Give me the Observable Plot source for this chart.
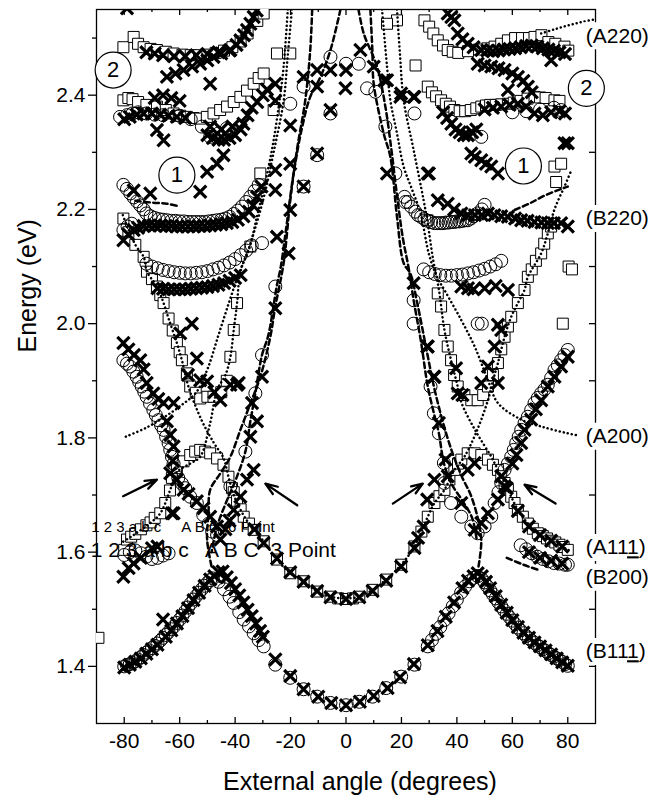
<!DOCTYPE html>
<html><head><meta charset="utf-8">
<script src="https://cdn.jsdelivr.net/npm/d3@7"></script>
<script src="https://cdn.jsdelivr.net/npm/@observablehq/plot@0.6"></script>
<style>body{margin:0;background:#fff} svg text{white-space:pre}</style>
</head><body><div id="chart"></div>
<script>
// ---------- axis ticks ----------
const xTicks = [-80,-60,-40,-20,0,20,40,60,80];
const xMinor = [-70,-50,-30,-10,10,30,50,70];
const yTicks = [1.4,1.6,1.8,2.0,2.2,2.4];
const yMinor = [1.5,1.7,1.9,2.1,2.3,2.5];

// ---------- B111 branch ----------
const circlesB111 = [[-80,1.400],[-79,1.402],[-78,1.404],[-77,1.406],[-76,1.409],[-75,1.412],[-74,1.416],[-73,1.420],[-72,1.424],[-71,1.428],[-70,1.432],[-69,1.436],[-68,1.440],[-67,1.445],[-66,1.450],[-65,1.455],[-64,1.460],[-63,1.465],[-62,1.470],[-61,1.476],[-60,1.482],[-59,1.489],[-58,1.496],[-57,1.503],[-56,1.510],[-55,1.517],[-54,1.523],[-53,1.529],[-52,1.535],[-51,1.541],[-50,1.546],[-49,1.551],[-48,1.554],
[-46,1.548],[-44,1.535],[-42,1.522],[-40.5,1.511],[-38.5,1.495],[-36.9,1.482],[-35,1.470],[-33.3,1.458],[-31.5,1.446],[-29.7,1.435],[-25.5,1.403],[-20.1,1.380],[-15.3,1.360],[-10.4,1.347],[-5.6,1.336],[0,1.332],
[4.8,1.338],[9.6,1.347],[14.5,1.362],[19.9,1.382],[24.7,1.403],[29.5,1.435],[31,1.446],[32.5,1.457],[34,1.469],[35.5,1.481],[37,1.493],[38.5,1.505],[40,1.517],[41.5,1.529],[43,1.540],[44.5,1.549],[46,1.555],[47.5,1.558],[49,1.553],[50,1.547],[51,1.540],[52,1.533],[53,1.526],[54,1.519],[55,1.512],[56,1.505],[57,1.498],[58,1.492],[59,1.486],[60,1.480],[61,1.474],[62,1.468],[63,1.463],[64,1.458],[65,1.453],[66,1.449],[67,1.445],[68,1.441],[69,1.437],[70,1.434],[71,1.430],[72,1.427],[73,1.423],[74,1.420],[75,1.417],[76,1.414],[77,1.411],[78,1.408],[79,1.404],[80,1.401]];
const crossesB111 = [[-80,1.398],[-78,1.403],[-76,1.408],[-74,1.414],[-72,1.422],[-70,1.430],[-68,1.438],[-66,1.482],[-65,1.452],[-63,1.463],[-61,1.475],[-59,1.488],[-57,1.502],[-55,1.516],[-53,1.529],[-51,1.541],[-49,1.552],[-47.5,1.558],[-46,1.565],[-44.5,1.566],[-43,1.556],[-41.5,1.546],[-40,1.535],[-38.5,1.524],[-37,1.512],[-35.5,1.499],[-34,1.488],[-32.5,1.475],[-31,1.462],[-30,1.452],[-25.5,1.412],[-20.1,1.383],[-15.3,1.360],[-10,1.347],[-5.3,1.336],[0,1.332],
[5,1.338],[10,1.348],[15,1.362],[19.5,1.381],[24.5,1.404],[29.5,1.437],[33,1.462],[36,1.487],[39,1.512],[42,1.537],[44,1.550],[46,1.558],[47.5,1.563],[49,1.558],[50.5,1.548],[52,1.537],[54,1.523],[56,1.508],[58,1.494],[60,1.481],[62,1.469],[64,1.459],[66,1.450],[68,1.442],[70,1.435],[72,1.428],[74,1.421],[76,1.414],[78,1.407],[80,1.401]];

// ---------- B200 / A111 square branch ----------
const squaresU = [[-89.3,1.45],
[-80,1.604],[-79,1.622],[-77.5,1.627],[-76,1.632],[-74,1.640],[-72,1.647],[-70.5,1.652],[-69,1.660],[-67,1.668],[-65.2,1.686],[-63.5,1.708],[-62.8,1.730],[-61,1.747],[-58.6,1.759],[-56.2,1.770],[-54.4,1.776],[-52.6,1.779],[-50.8,1.776],[-49,1.773],[-46.5,1.764],[-44.2,1.753],[-42.4,1.732],[-41.1,1.712],
[-40.5,1.705],[-39.3,1.690],[-38,1.675],[-36.9,1.662],[-35,1.650],[-33.3,1.639],[-29.7,1.619],[-24.9,1.587],[-20.1,1.563],[-15.3,1.549],[-10.4,1.531],[-5.6,1.522],[-2.8,1.519],[0,1.518],[2.5,1.519],[4.8,1.522],[9.6,1.534],[14.5,1.552],[19.9,1.578],[24.7,1.610],[27.2,1.636],[29.5,1.662],[31.9,1.686],[33.7,1.698],[35.5,1.709],[37.3,1.727],[39.1,1.744],[40.4,1.755],[41.6,1.762],[43.9,1.773],[46.4,1.773],[48.8,1.770],[51.2,1.762],[53,1.753],[54.8,1.744],[56,1.733],[57.2,1.721],[58.4,1.709],[59.6,1.697],[60.8,1.686],[62,1.674],[63.8,1.662],[65.6,1.650],[67.4,1.641],[69.2,1.633],[71,1.628],[72.5,1.624],[74,1.620],[75.5,1.617],[77,1.613],[78.5,1.609],[80,1.604]];
const crossesU = [[-33,1.640],[-29.7,1.616],[-24.9,1.589],[-20.1,1.565],[-15.3,1.548],[-10.4,1.532],[-5.6,1.521],[0,1.518],[4.8,1.521],[9.6,1.532],[14.5,1.550],[19.9,1.575],[24.7,1.607],[26,1.625],[28,1.645],[58,1.712],[62,1.672],[66,1.645],[70,1.630],[74,1.620],[78,1.610]];

// ---------- A111 crossing branch ----------
const circlesA111 = [[-80.3,1.936],[-79,1.930],[-77.9,1.925],[-76.7,1.916],[-75.5,1.907],[-74.6,1.898],[-73.7,1.890],[-72.8,1.881],[-71.9,1.872],[-70.7,1.860],[-69.5,1.849],[-68.6,1.840],[-67.7,1.831],[-66.7,1.822],[-65.8,1.814],[-64.9,1.802],[-64,1.791],[-63.4,1.779],[-62.8,1.767],[-62.2,1.755],[-61.6,1.744],[-60.5,1.730],[-59.2,1.720],[-58,1.712],[-56.2,1.697],[-53.8,1.686],[-51.5,1.665],[-49.5,1.650],[-48.3,1.636],[-46.5,1.630],[-43.5,1.654],[-41.7,1.715],
[80,1.954],[78.8,1.945],[77.6,1.936],[76.4,1.927],[75.2,1.919],[74,1.905],[72.8,1.893],[71.6,1.885],[70.4,1.878],[69.2,1.870],[68,1.861],[66.8,1.849],[65.6,1.837],[64.4,1.826],[63.2,1.814],[62.3,1.802],[61.4,1.791],[60.5,1.779],[59.6,1.767],[58.4,1.755],[57.2,1.744],[56,1.721],[55,1.705],[53.6,1.686],[52.4,1.662],[50,1.645],[47.5,1.633],[45.2,1.645],[41.6,1.662],[37.9,1.686],[35.5,1.721],
[63,1.612],[65,1.605],[67,1.598],[69,1.592],[71,1.588],[73,1.584],[75,1.581],[77,1.580],[79,1.578],[80,1.578],
[-80,1.595],[-78,1.600],[-76,1.603],[-74,1.598],[-72,1.592],[-70,1.588],[-68,1.590],[-66,1.594],[-64,1.598]];
const crossesA111 = [[-80.3,1.966],[-78.5,1.955],[-76.5,1.945],[-74.2,1.936],[-73,1.920],[-71.9,1.896],[-69.5,1.878],[-67.7,1.868],[-65.8,1.861],[-62.2,1.861],[-64.6,1.829],[-63.4,1.805],[-62.2,1.785],[-62.5,1.760],[-63.4,1.738],[-61,1.727],[-58.6,1.709],[-56.8,1.702],[-53.8,1.689],[-51.4,1.677],[-49,1.662],[-46.5,1.645],[-45.3,1.622],[-43.5,1.640],[-42,1.655],[-40.5,1.674],[-38.1,1.697],[-35.7,1.727],[-33.3,1.744],[-62.2,1.668],
[80,1.942],[77.6,1.925],[75.2,1.907],[72.8,1.890],[70.4,1.866],[68.5,1.850],[66.8,1.832],[64.4,1.814],[63.2,1.791],[61.5,1.770],[60,1.755],[57.2,1.715],[56,1.733],[54.8,1.692],[51.2,1.668],[48.8,1.651],[46.4,1.639],[43.9,1.744],[46.4,1.756],[41.6,1.686],[36.7,1.733],[31.9,1.727],[29.3,1.692],
[-80.3,1.557],[-78.4,1.572],[-76.6,1.580],[-74,1.590],[-70,1.607],[-68,1.610],[-62.8,1.668],[66,1.600],[70,1.590],[74,1.585],[78,1.580]];

// ---------- V shaped square branches ----------
const squaresV = [[-80.3,2.184],[-78.5,2.160],[-76,2.138],[-73,2.117],[-71.8,2.091],[-70,2.078],[-68.2,2.065],[-67,2.050],[-65.8,2.036],[-64,2.009],[-62.5,1.988],[-61,1.966],[-60,1.950],[-59.2,1.936],[-57.4,1.913],[-56.2,1.890],[-54.2,1.879],[-52.6,1.869],[-50,1.872],[-47.8,1.872],[-45,1.880],[-43,1.900],[-41.7,1.942],[-40.5,1.989],[-39.3,2.036],[-34.5,2.135],[-30.9,2.263],[-24.9,2.473],[-20.1,2.473],[-26.1,2.374],
[33.1,2.053],[34.3,2.030],[35.5,1.989],[36.7,1.960],[37.9,1.936],[39,1.910],[40.3,1.890],[42.7,1.875],[45.2,1.866],[47.5,1.866],[49.5,1.875],[51.2,1.890],[53,1.910],[54.8,1.931],[56,1.955],[57.2,1.977],[58.4,1.995],[59.6,2.012],[62,2.036],[64.4,2.059],[65.6,2.082],[67,2.095],[68.5,2.110],[70.4,2.123],[71.5,2.140],[72.8,2.158],[74,2.170],[29.3,2.181],[25.1,2.452],[18.4,2.531],[14.8,2.525],[75.2,2.275],[77.6,2.280],[75.8,2.248],[78.2,2.000],[80.3,2.100],[81.5,2.095]];
const crossesV = [[-59.8,1.983],[-55.6,2.000],[-53.8,1.939],[-52.6,1.901],[-50.1,1.899],[-47.5,1.880],[-45.3,1.866],[-41.7,1.893],[-39.3,1.893],[-38.7,1.896],[-57,1.910],
[29.5,1.960],[31.9,1.907],[39.7,1.922],[40.3,1.878],[42,1.875],[48.8,1.896],[51.2,1.925],[54.8,1.896],[53.6,1.960],[56,1.989],[54.8,1.998]];

// ---------- upper branches (B220, A220 region) ----------
const circlesUpper = [[-80.3,2.243],[-79,2.236],[-77.8,2.228],[-76.6,2.221],[-75.4,2.214],[-74.2,2.207],[-73,2.200],[-72,2.193],[-70.5,2.188],[-69,2.185],[-67.5,2.183],[-66,2.182],[-64.5,2.181],[-63,2.180],[-61.5,2.180],[-60,2.179],[-58.5,2.179],[-57,2.178],[-55.5,2.178],[-54,2.178],[-52.5,2.178],[-51,2.178],[-49.5,2.179],[-48,2.180],[-46.5,2.181],[-45,2.182],[-43.5,2.184],[-42,2.187],[-40.5,2.192],[-39,2.198],[-37.5,2.205],[-36,2.213],[-34.5,2.222],[-33,2.232],[-31.5,2.243],[-80.3,2.164],[-78.8,2.170],[-77.3,2.175],
[-72,2.105],[-70,2.100],[-68,2.097],[-66,2.094],[-64,2.092],[-62,2.090],[-60,2.089],[-58,2.088],[-56,2.088],[-54,2.089],[-52,2.090],[-50,2.092],[-48,2.095],[-46,2.098],[-44,2.102],[-42,2.107],[-40,2.113],[-38,2.120],[-36,2.128],[-34,2.137],
[-81.5,2.362],[-79,2.365],[-77,2.368],[-75,2.370],[-72,2.368],[-69,2.366],[-66,2.365],[-60,2.364],[-56,2.358],[-52,2.345],[-49,2.327],[-46,2.333],[-43,2.342],
[21.1,2.222],[22.3,2.213],[23.5,2.205],[25,2.196],[26,2.190],[27.1,2.187],[28.3,2.183],[29.5,2.180],[30.7,2.178],[31.9,2.176],[33,2.176],[34,2.176],[35,2.176],[36,2.177],[37,2.177],[37.9,2.178],[39,2.178],[40,2.179],[41,2.179],[42,2.180],[43,2.181],[43.9,2.181],[45,2.184],[46,2.188],[47.5,2.193],[49,2.200],[50,2.208],
[28,2.095],[30,2.090],[32,2.087],[34,2.085],[36,2.084],[38,2.084],[40,2.085],[42,2.086],[44,2.088],[46,2.090],[48,2.093],[50,2.096],[52,2.100],[54,2.104],[56,2.110],[47.5,2.000],[49,2.000],
[24.7,2.368],[48.8,2.327],[60,2.370],[65,2.372],[70,2.375],[75,2.378],[77.6,2.374]];
const crossesUpper = [[-80.3,2.146],[-78.5,2.156],[-76.6,2.164],[-75,2.168],[-73,2.171],[-71,2.172],[-69,2.172],[-67,2.172],[-65,2.171],[-63,2.171],[-61,2.170],[-59,2.170],[-57,2.170],[-55,2.170],[-53,2.171],[-51,2.171],[-49,2.172],[-47,2.173],[-45,2.174],[-43,2.176],[-41,2.178],[-39,2.182],[-37,2.188],[-35,2.196],[-33.5,2.207],[-32.1,2.222],[-30.5,2.240],[-76.6,2.233],[-70.6,2.228],[-52.6,2.231],[-50.1,2.266],[-46.5,2.280],[-44.2,2.295],
[-68,2.062],[-66,2.061],[-64,2.060],[-62,2.060],[-60,2.060],[-58,2.060],[-56,2.061],[-54,2.062],[-52,2.063],[-50,2.064],[-48,2.066],[-46,2.068],[-44,2.071],[-42,2.075],[-40,2.080],[-38,2.085],
[-80,2.358],[-78,2.362],[-75.5,2.366],[-73,2.368],[-70,2.368],[-67,2.366],[-64,2.364],[-61,2.362],[-58,2.360],[-69,2.395],[-66,2.400],[-63,2.395],[-60,2.390],[-68.2,2.339],[-65.8,2.321],[-50,2.330],[-48,2.325],[-46,2.322],[-44,2.322],[-42,2.325],[-40,2.330],[-38,2.340],[-37,2.350],[-35.5,2.365],[-34,2.378],[-32,2.388],[-30,2.400],[-28.5,2.410],[-49,2.345],[-45,2.340],[-41,2.345],
[-72,2.475],[-69,2.473],[-66,2.470],[-62,2.468],[-58,2.468],[-54,2.470],[-50,2.472],[-46,2.475],[-42,2.478],[-64.6,2.432],[-61.5,2.438],[-58.6,2.444],[-55.5,2.450],[-52.6,2.455],[-50,2.461],[-47.8,2.467],[-45,2.473],[-41.7,2.479],[-39.5,2.488],[-38.1,2.496],[-36.8,2.505],[-35.7,2.514],[-34.5,2.525],[-33.3,2.537],[-32.2,2.548],[-49,2.420],[-79,2.552],
[36.7,2.543],[38,2.537],[39.1,2.531],[40.3,2.508],[42,2.498],[43.9,2.490],[46,2.484],[48.8,2.479],[51,2.478],[53,2.477],[55,2.478],[57,2.480],[59,2.481],[61,2.482],[63,2.484],[65,2.486],[67,2.487],[69,2.485],[71,2.482],[73,2.480],[75,2.478],[77,2.475],[79,2.472],[47.5,2.455],[50,2.452],[52.4,2.450],[55,2.447],[57.2,2.444],[60,2.438],[62,2.432],[64,2.425],[65.6,2.415],[67,2.405],[74,2.461],[78.8,2.316],
[35,2.370],[36.5,2.360],[38,2.350],[39.5,2.340],[41,2.335],[42.5,2.330],[44,2.330],[45.5,2.335],[47,2.340],[50,2.375],[53,2.378],[56,2.380],[59,2.383],[58.4,2.409],[62,2.385],[65,2.380],[68,2.368],[71,2.365],[74,2.370],[77,2.372],[79,2.368],[13.9,2.426],[19.9,2.403],[24.7,2.397],
[29.5,2.263],[33.1,2.216],[36.7,2.210],[39,2.200],[41.6,2.193],[44,2.190],[46.5,2.190],[49,2.190],[51.2,2.193],[53.5,2.190],[56,2.188],[58.4,2.187],[61,2.184],[63.2,2.181],[65.5,2.180],[68,2.178],[70.5,2.177],[72.8,2.176],[75,2.176],[77.6,2.176],[80,2.170],[45.2,2.298],[46.5,2.292],[48.8,2.286],[50.5,2.280],[52.4,2.275],[54.8,2.263],[80,2.316],
[41.6,2.065],[44,2.062],[46,2.060],[50,2.062],[54,2.066],[58.4,2.059]];
const squaresUpper = [[-80.3,2.391],[-78.5,2.395],[-77,2.393],[-75,2.388],[-72,2.383],[-68.2,2.380],[-65,2.374],[-62.2,2.368],[-59.8,2.364],[-57.4,2.362],[-55,2.360],[-52.6,2.359],[-50.2,2.362],[-47.8,2.368],[-45.4,2.374],[-42.9,2.380],[-40.5,2.388],[-38.1,2.397],[-35.7,2.408],[-33.3,2.420],[-31.5,2.430],[-29.7,2.438],
[-80.3,2.484],[-76.6,2.502],[-75,2.490],[-73,2.484],[-70.5,2.481],[-68.2,2.479],[-65,2.476],[-62.2,2.473],[-59,2.471],[-56,2.470],[-53,2.470],[-50,2.471],[-47,2.474],[-44,2.478],[-41,2.484],[-38,2.494],[-35.5,2.508],[-32,2.530],[-29.7,2.543],
[28.3,2.531],[30,2.520],[31.5,2.508],[33.1,2.496],[35,2.487],[36.7,2.479],[38.5,2.476],[40.5,2.474],[44,2.477],[48,2.480],[51,2.482],[53.6,2.485],[56,2.490],[58.4,2.496],[61,2.500],[63.5,2.500],[66,2.500],[68,2.502],[70.5,2.505],[73,2.493],[75.5,2.490],[78.8,2.485],[80.2,2.478],
[29.5,2.415],[31,2.405],[32.5,2.398],[34.3,2.391],[36,2.385],[37.5,2.380],[39.1,2.374],[41,2.372],[43,2.372],[45,2.374],[47,2.377],[48.8,2.380],[50.5,2.382],[52,2.383],[54,2.383],[56,2.384],[58.4,2.385],[60.5,2.387],[63,2.390],[65.5,2.394],[68,2.397],[70,2.396],[72,2.395],[75.2,2.391],[77,2.390]];

// ---------- central arch points ----------
const circlesCenter = [[-5.6,2.467],[0,2.455],[4.6,2.455],[-15.3,2.415],[-20.1,2.385],[-5.6,2.368],[-10.4,2.295],[-15.3,2.240],[-30.3,2.141],[7.6,2.412],[10.6,2.406],[14.2,2.345],[17.8,2.263],[21.4,2.213],[-25.5,2.065],[-30.3,1.945],[-32.7,1.878],[-34.5,1.829],[-36.3,1.776],[24.4,2.041],[24.4,2.000],[30.5,1.890],[31.7,1.843],[33.5,1.808],[35.3,1.756]];
const crossesCenter = [[-10.4,2.444],[-15.3,2.432],[-5.6,2.444],[0,2.444],[-0.2,2.412],[-5.6,2.374],[-10.4,2.298],[-15.3,2.240],[-20.1,2.280],[-20.1,2.199],[-20.7,2.123],[-25.5,2.420],[-25.5,2.390],[-20.1,2.347],[-25.5,2.269],[-25.5,2.234],[-24.9,2.152],[-10.4,2.415],[14.8,2.426],[14.8,2.263],[19.6,2.397],[24.4,2.397],[29.9,2.263],[10,2.450],[5.2,2.479],[-25.5,2.027],[-30.3,1.907],[-33.9,1.861],[-32.1,1.829],[-34.5,1.802],[24.4,2.071],[29.3,1.960],[31.7,1.907],[33.5,1.826],[35.9,1.762]];

// ---------- model curves ----------
const dottedCurves = [
 [[-19.5,2.55],[-21,2.47],[-22.5,2.39],[-26.1,2.30],[-29.7,2.22],[-34.5,2.14],[-38.1,2.09],[-39.3,2.036],[-40.5,1.989],[-41.7,1.942],[-43.5,1.91],[-46.5,1.884],[-49,1.826],[-52.6,1.767],[-56.2,1.755],[-61,1.740],[-63.4,1.709],[-67,1.668],[-70.6,1.651],[-76.6,1.630],[-80.5,1.618]],
 [[-21,2.55],[-22.5,2.45],[-24,2.39],[-26.5,2.31],[-29.5,2.24],[-32,2.19],[-35,2.13],[-38.5,2.09],[-42,2.04],[-46,1.98],[-50,1.92],[-54,1.88],[-60,1.855],[-66,1.835],[-72,1.818],[-80.5,1.80]],
 [[-80.5,2.19],[-76,2.138],[-73,2.117],[-71.8,2.091],[-68.2,2.065],[-65.8,2.036],[-64,2.009],[-61,1.966],[-59.2,1.936],[-56.8,1.889],[-52,1.83],[-47.5,1.79],[-44.2,1.765],[-42.4,1.732],[-40.5,1.70],[-37,1.665],[-33.3,1.639],[-29.7,1.619],[-24.9,1.587],[-20.1,1.563],[-15.3,1.549],[-10.4,1.531],[-5.6,1.522],[0,1.519],[4.8,1.522],[9.6,1.534],[14.5,1.552],[19.9,1.578],[24.7,1.61],[29.5,1.662],[31.9,1.686],[35.5,1.709],[39.1,1.744],[42.7,1.767],[47,1.81],[51.2,1.866],[53,1.9],[54.8,1.931],[57.2,1.977],[59.6,2.012],[62,2.036],[64.4,2.059],[65.6,2.082],[70.4,2.123],[72.8,2.158],[75.2,2.2],[78.8,2.24],[81,2.265]],
 [[18.4,2.55],[19.5,2.47],[20.8,2.391],[24.4,2.304],[28,2.216],[29.3,2.181],[31.5,2.11],[33.5,2.06],[35.5,1.989],[37.9,1.936],[40.3,1.89],[41.7,1.861],[47,1.81],[52.4,1.767],[54.8,1.744],[57.2,1.721],[59.6,1.697],[62,1.674],[65.6,1.65],[69.2,1.633],[75,1.617],[80.5,1.603]],
 [[13,2.55],[14.8,2.45],[16,2.391],[18.4,2.333],[20.8,2.275],[23.9,2.234],[26.9,2.193],[30,2.12],[33,2.08],[35.5,2.059],[41.6,2.006],[46.4,1.96],[51.2,1.901],[54.8,1.861],[63.2,1.832],[70.4,1.82],[80,1.808],[84,1.804]],
 [[70.4,2.508],[75,2.515],[80,2.522],[85,2.528],[90,2.533]]
];
const dashedCurves = [
 [[-12.2,2.55],[-12.9,2.479],[-14.7,2.391],[-17.7,2.304],[-20.1,2.216],[-22.5,2.106],[-25.5,2.03],[-27.3,1.977],[-30.9,1.907],[-34.5,1.86],[-38.1,1.814],[-41.7,1.767],[-45.3,1.738],[-49,1.709],[-49.6,1.668],[-50.1,1.622],[-48.5,1.575]],
 [[-2,2.55],[-5.6,2.479],[-9.2,2.432],[-12.9,2.397],[-16,2.34],[-19,2.26],[-21.5,2.17],[-23.5,2.10],[-25,2.065],[-28,1.98],[-30.3,1.945],[-32.7,1.878],[-34.5,1.829],[-36.3,1.776],[-39.5,1.73],[-43,1.69],[-46.5,1.645],[-48.5,1.60]],
 [[8.8,2.55],[9.5,2.48],[10,2.42],[13.6,2.333],[16,2.292],[18.4,2.187],[20.8,2.106],[23.2,2.088],[25.7,2.036],[29.3,1.948],[31.7,1.89],[34.1,1.843],[36.5,1.802],[38.9,1.767],[42,1.73],[45,1.70],[47.5,1.66],[48.8,1.62],[47.8,1.575]],
 [[4.5,2.55],[6.4,2.508],[11.2,2.45],[14.2,2.38],[16.5,2.30],[18,2.24],[20.5,2.15],[22.5,2.10],[24.4,2.041],[27,1.97],[29.5,1.89],[31.7,1.843],[33.5,1.808],[35.3,1.756],[38,1.72],[42,1.69],[45.5,1.66],[47.2,1.62]],
 [[-76,2.215],[-70,2.212],[-64.6,2.21],[-60,2.205]],
 [[60.8,2.199],[66,2.21],[72,2.225],[80,2.24]],
 [[58,1.59],[64,1.578],[70,1.568]]
];

// ---------- annotations ----------
const arrowFrom = [[-80.4,1.698],[-17.6,1.682],[16.9,1.685],[75.6,1.685]];
const arrowTo   = [[-68.2,1.727],[-29.1,1.720],[27.7,1.720],[64.4,1.718]];
const bandLabels = ["(A220)","(B220)","(A200)","(A111)","(B200)","(B111)"];
const bandLabelE = [2.504,2.184,1.803,1.608,1.556,1.426];
const bandLabelX = 86.5;
const bandLabelSpan = 23;   // width of the white backing behind each label, in degrees
const ringText = ["2","1","2","1"];
const ringPos = [[-84,2.444],[-61,2.26],[86.7,2.412],[64,2.276]];
const ringBold = [true,false,true,false];
const legendRows = ["1 2 3 a b c     A B C  6 Point","1 2 3 a b c   A B C  3 Point"];
const legendPos = [[-91.9,1.636],[-92.1,1.592]];

// ---------- build ----------
const pts = a => a.map(([x,y]) => ({x,y}));
const lines = cs => cs.flatMap((c,i) => c.map(([x,y]) => ({x,y,z:i})));
const squares = pts([...squaresU, ...squaresV, ...squaresUpper]);
const circles = pts([...circlesB111, ...circlesA111, ...circlesUpper, ...circlesCenter]);
const crosses = pts([...crossesB111, ...crossesU, ...crossesA111, ...crossesV, ...crossesUpper, ...crossesCenter]);
const bandData = bandLabels.map((t,i) => ({t, y: bandLabelE[i]}));

const W = 668, H = 807, mL = 96, mR = 73, mT = 9, mB = 84;
const plotW = W - mL - mR, plotH = H - mT - mB;
const font = "'Liberation Sans', Arial, Helvetica, sans-serif";

const chart = Plot.plot({
  width: W, height: H,
  marginLeft: mL, marginRight: mR, marginTop: mT, marginBottom: mB,
  x: {domain: [-90, 90]},
  y: {domain: [1.30, 2.55]},
  style: {fontFamily: font, background: "white", color: "black"},
  marks: [
    Plot.frame({stroke: "black", strokeWidth: 1.3}),
    Plot.axisX(xTicks, {anchor: "bottom", tickSize: 0, tickPadding: 10, fontSize: 21, tickFormat: d => String(d), label: null}),
    Plot.axisY(yTicks, {anchor: "left", tickSize: 8, tickPadding: 3, fontSize: 21, tickFormat: d => d.toFixed(1), label: null, strokeWidth: 1.3}),
    Plot.axisY(yMinor, {anchor: "left", tickSize: 4, tickFormat: () => "", label: null, strokeWidth: 1.3}),
    Plot.ruleX(xTicks, {x: d => d, insetTop: plotH - 6, strokeWidth: 1.3}),
    Plot.ruleX(xMinor, {x: d => d, insetTop: plotH - 3, strokeWidth: 1.3}),
    Plot.ruleX(xTicks, {x: d => d, insetBottom: plotH - 6, strokeWidth: 1.3}),
    Plot.ruleX(xMinor, {x: d => d, insetBottom: plotH - 3, strokeWidth: 1.3}),
    Plot.ruleY(yTicks, {y: d => d, insetLeft: plotW - 6, strokeWidth: 1.3}),
    Plot.ruleY(yMinor, {y: d => d, insetLeft: plotW - 6, strokeWidth: 1.3}),
    Plot.dot(squares, {x: "x", y: "y", symbol: "square", r: 6.2, fill: "white", stroke: "black", strokeWidth: 1, clip: true}),
    Plot.line(lines(dottedCurves), {x: "x", y: "y", z: "z", curve: "catmull-rom", stroke: "black", strokeWidth: 2.5, strokeDasharray: "0.1 4", strokeLinecap: "round", clip: true}),
    Plot.line(lines(dashedCurves), {x: "x", y: "y", z: "z", curve: "catmull-rom", stroke: "black", strokeWidth: 2.5, strokeDasharray: "5.5 3.5", clip: true}),
    Plot.dot(circles, {x: "x", y: "y", r: 6.5, fill: "none", stroke: "black", strokeWidth: 1, clip: true}),
    Plot.dot(crosses, {x: "x", y: "y", symbol: "times", r: 5.6, stroke: "black", strokeWidth: 3.2, clip: true}),
    Plot.arrow(arrowFrom.map((a,i) => ({x1: a[0], y1: a[1], x2: arrowTo[i][0], y2: arrowTo[i][1]})), {x1: "x1", y1: "y1", x2: "x2", y2: "y2", stroke: "black", strokeWidth: 2.3, headLength: 11, headAngle: 40}),
    Plot.dot(ringPos.map(([x,y]) => ({x,y})), {x: "x", y: "y", r: 18, fill: "white", stroke: "black", strokeWidth: 1.2}),
    Plot.text(ringPos.map(([x,y],i) => ({x,y,t: ringText[i], b: ringBold[i]})), {x: "x", y: "y", text: "t", fontSize: 22, fontWeight: d => d.b ? "bold" : "normal"}),
    // white backing behind the band labels (hides the right frame line there)
    Plot.ruleY(bandData, {y: "y", x1: () => bandLabelX - 1, x2: () => bandLabelX + bandLabelSpan, stroke: "white", strokeWidth: 27}),
    Plot.text(bandData, {x: () => bandLabelX, y: "y", text: "t", textAnchor: "start", fontSize: 21, fill: "black"}),
    Plot.text([legendRows[0]], {x: () => legendPos[0][0], y: () => legendPos[0][1], text: d => d, textAnchor: "start", lineAnchor: "bottom", fontSize: 15}),
    Plot.text([legendRows[1]], {x: () => legendPos[1][0], y: () => legendPos[1][1], text: d => d, textAnchor: "start", lineAnchor: "bottom", fontSize: 21}),
    Plot.text(["External angle (degrees)"], {frameAnchor: "bottom", dy: 66, dx: 14, fontSize: 25}),
    Plot.text(["Energy (eV)"], {frameAnchor: "left", rotate: -90, dx: -69, dy: -14, fontSize: 25})
  ]
});

// underline the bar index on the (111) labels
d3.select(chart).selectAll("text").each(function() {
  const t = this.textContent;
  if (t === "(A111)" || t === "(B111)") {
    const sel = d3.select(this);
    sel.text(null);
    sel.append("tspan").text(t.slice(0, 4));
    sel.append("tspan").text("1").style("text-decoration", "underline");
    sel.append("tspan").text(")");
  }
});
document.getElementById("chart").appendChild(chart);
</script></body></html>
